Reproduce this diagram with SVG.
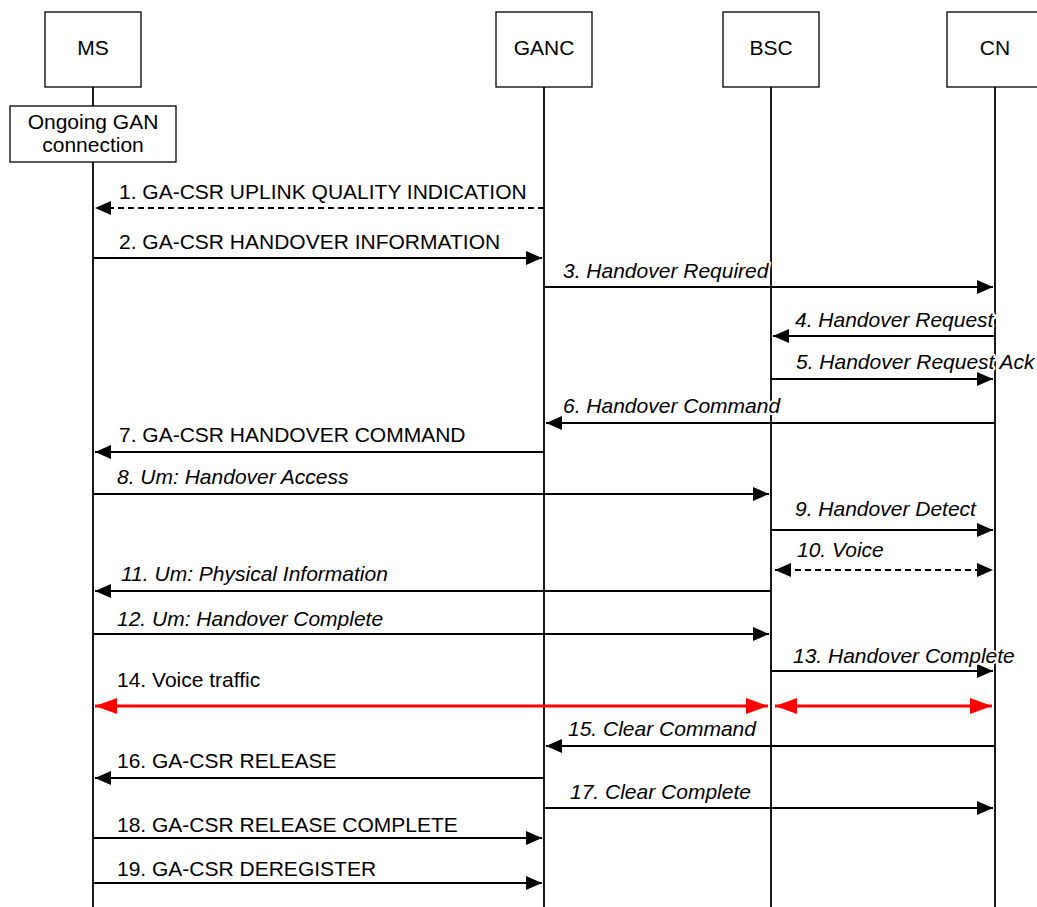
<svg xmlns="http://www.w3.org/2000/svg" width="1037" height="907" viewBox="0 0 1037 907">
<defs>
<marker id="ah" viewBox="0 0 16 14" refX="16" refY="7" markerWidth="16" markerHeight="14" markerUnits="userSpaceOnUse" orient="auto-start-reverse"><path d="M0,0 L16,7 L0,14 Z" fill="#000"/></marker>
<marker id="ahr" viewBox="0 0 22 16" refX="22" refY="8" markerWidth="22" markerHeight="16" markerUnits="userSpaceOnUse" orient="auto-start-reverse"><path d="M0,0 L22,8 L0,16 Z" fill="#ff0000"/></marker>
<style>
text{font-family:"Liberation Sans",Arial,sans-serif;font-size:21px;fill:#000}
.it{font-style:italic}
.lbl{paint-order:stroke;stroke:#fff;stroke-width:4px;stroke-linejoin:round}
.box{fill:#fff;stroke:#000;stroke-width:1.3}
.life{stroke:#000;stroke-width:1.8}
.msg{stroke:#000;stroke-width:1.8;fill:none;marker-end:url(#ah)}
.dash{stroke-dasharray:6,4}
.both{marker-start:url(#ah)}
.red{stroke:#ff0000;stroke-width:2.8;fill:none;marker-end:url(#ahr);marker-start:url(#ahr)}
</style>
</defs>
<rect width="1037" height="907" fill="#fff"/>
<g id="lifelines">
<line class="life" x1="93" y1="87" x2="93" y2="907"/>
<line class="life" x1="544" y1="87" x2="544" y2="907"/>
<line class="life" x1="771" y1="87" x2="771" y2="907"/>
<line class="life" x1="995" y1="87" x2="995" y2="907"/>
</g>
<g id="node-ms"><rect class="box" x="45" y="12" width="96" height="75"/><text x="93" y="55" text-anchor="middle">MS</text></g>
<g id="node-ganc"><rect class="box" x="496" y="12" width="96" height="75"/><text x="544" y="55" text-anchor="middle">GANC</text></g>
<g id="node-bsc"><rect class="box" x="723" y="12" width="96" height="75"/><text x="771" y="55" text-anchor="middle">BSC</text></g>
<g id="node-cn"><rect class="box" x="947" y="12" width="96" height="75"/><text x="995" y="55" text-anchor="middle">CN</text></g>
<g id="node-ongoing"><rect class="box" x="10" y="106" width="166" height="56"/><text x="93" y="129" text-anchor="middle">Ongoing GAN</text><text x="93" y="152" text-anchor="middle">connection</text></g>
<g id="connectors">
<line class="msg dash" x1="544" y1="208" x2="95" y2="208"/>
<line class="msg" x1="93" y1="258" x2="542" y2="258"/>
<line class="msg" x1="544" y1="287" x2="993" y2="287"/>
<line class="msg" x1="995" y1="336" x2="773" y2="336"/>
<line class="msg" x1="771" y1="379" x2="993" y2="379"/>
<line class="msg" x1="995" y1="423" x2="546" y2="423"/>
<line class="msg" x1="544" y1="452" x2="95" y2="452"/>
<line class="msg" x1="93" y1="494" x2="769" y2="494"/>
<line class="msg" x1="771" y1="530" x2="993" y2="530"/>
<line class="msg dash both" x1="775" y1="570" x2="993" y2="570"/>
<line class="msg" x1="771" y1="591" x2="95" y2="591"/>
<line class="msg" x1="93" y1="634" x2="769" y2="634"/>
<line class="msg" x1="771" y1="671" x2="993" y2="671"/>
<line class="red" x1="95" y1="706" x2="768" y2="706"/>
<line class="red" x1="775" y1="706" x2="992" y2="706"/>
<line class="msg" x1="995" y1="746" x2="546" y2="746"/>
<line class="msg" x1="544" y1="778" x2="95" y2="778"/>
<line class="msg" x1="544" y1="808" x2="993" y2="808"/>
<line class="msg" x1="93" y1="838" x2="542" y2="838"/>
<line class="msg" x1="93" y1="883" x2="542" y2="883"/>
</g>
<g id="labels">
<text class="lbl" x="119" y="199">1. GA-CSR UPLINK QUALITY INDICATION</text>
<text class="lbl" x="119" y="249">2. GA-CSR HANDOVER INFORMATION</text>
<text class="lbl it" x="563" y="278">3. Handover Required</text>
<text class="lbl it" x="795" y="327">4. Handover Request</text>
<text class="lbl it" x="796" y="369">5. Handover Request Ack</text>
<text class="lbl it" x="563" y="413">6. Handover Command</text>
<text class="lbl" x="119" y="442">7. GA-CSR HANDOVER COMMAND</text>
<text class="lbl it" x="117" y="484">8. Um: Handover Access</text>
<text class="lbl it" x="795" y="516">9. Handover Detect</text>
<text class="lbl it" x="797" y="557">10. Voice</text>
<text class="lbl it" x="121" y="581">11. Um: Physical Information</text>
<text class="lbl it" x="117" y="626">12. Um: Handover Complete</text>
<text class="lbl it" x="793" y="663">13. Handover Complete</text>
<text class="lbl" x="117" y="687">14. Voice traffic</text>
<text class="lbl it" x="568" y="736">15. Clear Command</text>
<text class="lbl" x="117" y="768">16. GA-CSR RELEASE</text>
<text class="lbl it" x="570" y="799">17. Clear Complete</text>
<text class="lbl" x="117" y="832">18. GA-CSR RELEASE COMPLETE</text>
<text class="lbl" x="117" y="876">19. GA-CSR DEREGISTER</text>
</g>
</svg>
